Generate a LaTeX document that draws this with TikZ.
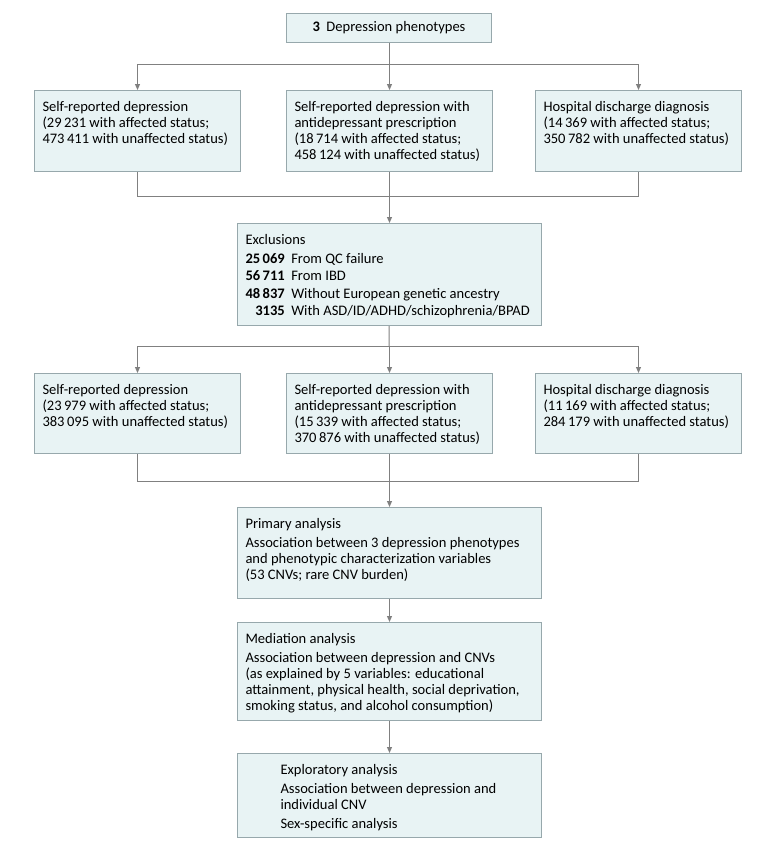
\documentclass[tikz,border=0pt]{standalone}
\usepackage{fontspec}
\setmainfont{Carlito}
\usetikzlibrary{arrows.meta}

\newlength{\pxu}
\setlength{\pxu}{0.75pt}
% text block of a stage: width, height, lines
\newcommand{\boxtext}[3]{\parbox[t][#2\pxu][t]{#1\pxu}{\strut #3}}

\definecolor{boxfill}{HTML}{E8F3F4}
\definecolor{boxline}{HTML}{97A8AC}
\definecolor{linkgray}{HTML}{808080}

\tikzset{
    stage/.style={draw=boxline, fill=boxfill, line width=0.75pt, anchor=north west,
        inner xsep=6pt, inner ysep=7.5pt},
    link/.style={draw=linkgray, line width=0.75pt},
    arr/.style={link, -{Triangle[length=4.5pt, width=3.75pt]}}
}

\begin{document}
\begin{tikzpicture}[x=0.75pt, y=-0.75pt, font=\fontsize{10.9pt}{12pt}\selectfont]
    \useasboundingbox (0,0) rectangle (780,850);

    % Phenotypes
    \node[stage, anchor=center, minimum width=153.75pt, minimum height=21.75pt, inner ysep=0pt]
        (pheno) at (389,27.5) {\textbf{3}\hspace{0.45em}Depression phenotypes};

    % Row 1: before exclusions
    \node[stage] (selfA) at (34,90) {\boxtext{190}{61}{Self-reported depression\\(29\,231 with affected status;\\473\,411 with unaffected status)}};
    \node[stage] (antiA) at (286,90) {\boxtext{190}{61}{Self-reported depression with\\antidepressant prescription\\(18\,714 with affected status;\\458\,124 with unaffected status)}};
    \node[stage] (hospA) at (535,90) {\boxtext{190}{61}{Hospital discharge diagnosis\\(14\,369 with affected status;\\350\,782 with unaffected status)}};

    % Exclusions
    \node[stage] (excl) at (237,223) {\boxtext{288}{82}{Exclusions\\
        \renewcommand{\arraystretch}{1.1}%
        \begin{tabular}[t]{@{}r@{\hspace{0.45em}}l@{}}
            \textbf{25\,069} & From QC failure\\
            \textbf{56\,711} & From IBD\\
            \textbf{48\,837} & Without European genetic ancestry\\
            \textbf{3135} & With ASD/ID/ADHD/schizophrenia/BPAD
        \end{tabular}}};

    % Row 2: after exclusions
    \node[stage] (selfB) at (34,373) {\boxtext{190}{60}{Self-reported depression\\(23\,979 with affected status;\\383\,095 with unaffected status)}};
    \node[stage] (antiB) at (286,373) {\boxtext{190}{60}{Self-reported depression with\\antidepressant prescription\\(15\,339 with affected status;\\370\,876 with unaffected status)}};
    \node[stage] (hospB) at (535,373) {\boxtext{190}{60}{Hospital discharge diagnosis\\(11\,169 with affected status;\\284\,179 with unaffected status)}};

    % Analyses
    \node[stage] (primary) at (237,507) {\boxtext{288}{71}{Primary analysis\\[2.25pt]Association between 3 depression phenotypes\\and phenotypic characterization variables\\(53 CNVs; rare CNV burden)}};
    \node[stage] (mediation) at (237,622) {\boxtext{288}{78}{Mediation analysis\\[2.25pt]Association between depression and CNVs\\(as explained by 5 variables: educational\\attainment, physical health, social deprivation,\\smoking status, and alcohol consumption)}};
    \node[stage] (explore) at (237,753) {\boxtext{288}{64}{\leftskip=26.25pt Exploratory analysis\\[2.25pt]Association between depression and\\individual CNV\\[2.25pt]Sex-specific analysis}};

    % Split and merge points
    \coordinate (split1) at (389,64);
    \coordinate (merge1) at (389,196);
    \coordinate (split2) at (389,346);
    \coordinate (merge2) at (389,481);

    % Connectors
    \draw[link] (pheno) -- (split1);
    \foreach \n in {selfA, antiA, hospA}
        \draw[arr] (split1) -| (\n.north);
    \foreach \n in {selfA, hospA}
        \draw[link] (\n.south) |- (merge1);
    \draw[arr] (antiA) -- (excl);

    \draw[link] (excl) -- (split2);
    \foreach \n in {selfB, antiB, hospB}
        \draw[arr] (split2) -| (\n.north);
    \foreach \n in {selfB, hospB}
        \draw[link] (\n.south) |- (merge2);
    \draw[arr] (antiB) -- (primary);

    \draw[arr] (primary) -- (mediation);
    \draw[arr] (mediation) -- (explore);
\end{tikzpicture}
\end{document}
